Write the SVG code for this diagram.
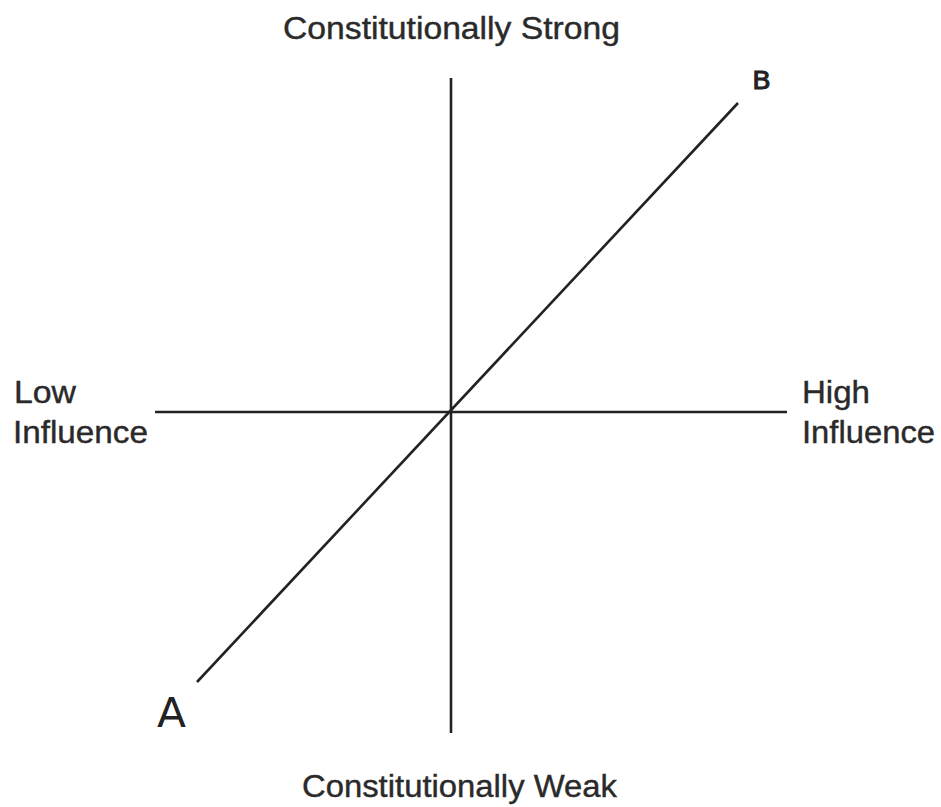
<svg xmlns="http://www.w3.org/2000/svg" width="941" height="807" viewBox="0 0 941 807">
<style>
.ax{stroke:#222;stroke-width:2.6;fill:none}
.lb{font-family:"Liberation Sans",Arial,sans-serif;font-size:31px;fill:#2a2a2a;stroke:#2a2a2a;stroke-width:0.4}
.pt{font-family:"DejaVu Sans",sans-serif;fill:#222}
</style>
<rect width="941" height="807" fill="#fff"/>
<g id="connectors">
<line class="ax" x1="451" y1="78" x2="451" y2="733"/>
<line class="ax" x1="155" y1="412" x2="787" y2="412"/>
<line class="ax" x1="197" y1="682" x2="738" y2="103"/>
</g>
<g id="top"><text class="lb" x="283" y="39" textLength="337" lengthAdjust="spacingAndGlyphs">Constitutionally Strong</text></g>
<g id="bottom"><text class="lb" x="302" y="797" textLength="315" lengthAdjust="spacingAndGlyphs">Constitutionally Weak</text></g>
<g id="left"><text class="lb" x="14" y="403" textLength="62" lengthAdjust="spacingAndGlyphs">Low</text><text class="lb" x="13" y="443" textLength="135" lengthAdjust="spacingAndGlyphs">Influence</text></g>
<g id="right"><text class="lb" x="802" y="403" textLength="68" lengthAdjust="spacingAndGlyphs">High</text><text class="lb" x="802" y="443" textLength="133" lengthAdjust="spacingAndGlyphs">Influence</text></g>
<g id="A"><text class="pt" x="157" y="727" font-size="40" textLength="29" lengthAdjust="spacingAndGlyphs">A</text></g>
<g id="B"><text class="pt" x="752" y="89" font-size="24" stroke="#222" stroke-width="0.8" textLength="19" lengthAdjust="spacingAndGlyphs">B</text></g>
</svg>
